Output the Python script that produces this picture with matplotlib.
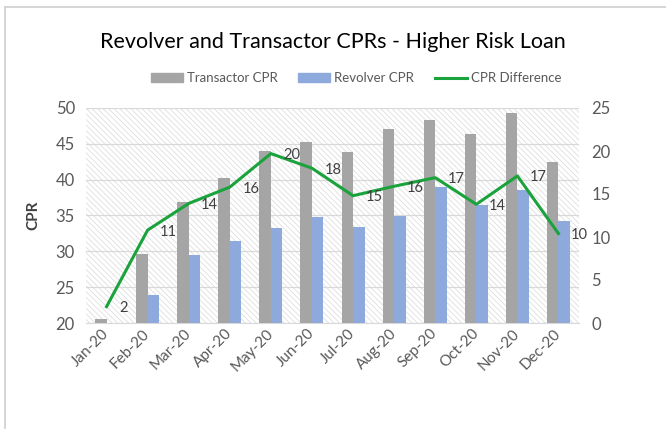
import matplotlib
matplotlib.use("Agg")
import matplotlib.pyplot as plt
import matplotlib.transforms as mtransforms
import numpy as np
from matplotlib.lines import Line2D
from matplotlib.patches import Rectangle

months = ["Jan-20", "Feb-20", "Mar-20", "Apr-20", "May-20", "Jun-20",
          "Jul-20", "Aug-20", "Sep-20", "Oct-20", "Nov-20", "Dec-20"]
transactor = [20.5, 29.6, 36.9, 40.2, 44.0, 45.3, 43.9, 47.1, 48.3, 46.4, 49.3, 42.4]
revolver = [18.5, 23.9, 29.5, 31.4, 33.2, 34.8, 33.4, 34.9, 39.0, 36.5, 38.5, 34.3]
difference = [1.9, 10.8, 13.9, 15.8, 19.7, 18.0, 14.8, 15.9, 16.9, 13.8, 17.1, 10.4]
diff_labels = ["2", "11", "14", "16", "20", "18", "15", "16", "17", "14", "17", "10"]

plt.rcParams['font.family'] = ['Lato', 'DejaVu Sans']
plt.rcParams['hatch.linewidth'] = 0.55

W, H = 666, 429
fig = plt.figure(figsize=(W / 100, H / 100), dpi=100)
ax = fig.add_axes([86 / W, 1 - 323 / H, (579 - 86) / W, (323 - 108) / H])

# hatched background
ax.add_patch(Rectangle((0, 0), 1, 1, transform=ax.transAxes, facecolor='white',
                       edgecolor='#dcdcdc', linewidth=0, hatch='\\' * 6, zorder=0))

x = np.arange(len(months))
bw = 0.28
ax.bar(x - bw / 2, transactor, bw, color='#a5a5a5', zorder=3, label='Transactor CPR')
ax.bar(x + bw / 2, revolver, bw, color='#8eaadc', zorder=3, label='Revolver CPR')
ax.set_ylim(20, 50)
ax.set_yticks(range(20, 51, 5))
ax.set_xlim(-0.5, len(months) - 0.5)
ax.set_xticks(x)
ax.set_xticklabels(months, rotation=45, ha='right', va='center', rotation_mode='anchor')
shift = mtransforms.ScaledTranslation(7 / 100, -11 / 100, fig.dpi_scale_trans)
for lab in ax.get_xticklabels():
    lab.set_transform(lab.get_transform() + shift)
ax.grid(axis='y', color='#d9d9d9', linewidth=0.9, zorder=1)
ax.set_axisbelow(True)
for s in ['top', 'right', 'left']:
    ax.spines[s].set_visible(False)
ax.spines['bottom'].set_color('#d9d9d9')
ax.tick_params(axis='y', length=0, colors='#595959', labelsize=12, pad=8)
ax.tick_params(axis='x', length=0, colors='#595959', labelsize=11, pad=6)
ax.set_ylabel('CPR', fontsize=11, fontweight='bold', color='#404040', labelpad=11)

ax2 = ax.twinx()
ax2.plot(x, difference, color='#1aa33c', linewidth=2.2, zorder=5)
ax2.set_ylim(0, 25)
ax2.set_yticks(range(0, 26, 5))
for s in ['top', 'right', 'left', 'bottom']:
    ax2.spines[s].set_visible(False)
ax2.tick_params(axis='y', length=0, colors='#595959', labelsize=12, pad=9)
for xi, yi, lab in zip(x, difference, diff_labels):
    ax2.annotate(lab, (xi, yi), xytext=(9, -1), textcoords='offset points',
                 ha='left', va='center', fontsize=10.5, color='#404040', zorder=6)

fig.text(333 / W, 1 - 42 / H, 'Revolver and Transactor CPRs - Higher Risk Loan',
         ha='center', va='center', fontsize=15.5, color='#000000')

handles = [Rectangle((0, 0), 1, 1, color='#a5a5a5'),
           Rectangle((0, 0), 1, 1, color='#8eaadc'),
           Line2D([], [], color='#1aa33c', linewidth=2.2)]
fig.legend(handles, ['Transactor CPR', 'Revolver CPR', 'CPR Difference'],
           loc='center', bbox_to_anchor=(356 / W, 1 - 78 / H), ncol=3, frameon=False,
           fontsize=9.5, labelcolor='#595959', handlelength=2.4, handleheight=0.6,
           columnspacing=1.6, handletextpad=0.3)

# outer frame lines (top and left)
fig.add_artist(Line2D([5 / W, 1], [1 - 7 / H, 1 - 7 / H], transform=fig.transFigure,
                      color='#d0d0d0', linewidth=1.2))
fig.add_artist(Line2D([5 / W, 5 / W], [0, 1 - 7 / H], transform=fig.transFigure,
                      color='#d0d0d0', linewidth=1.2))

fig.savefig('out.png', dpi=100)
